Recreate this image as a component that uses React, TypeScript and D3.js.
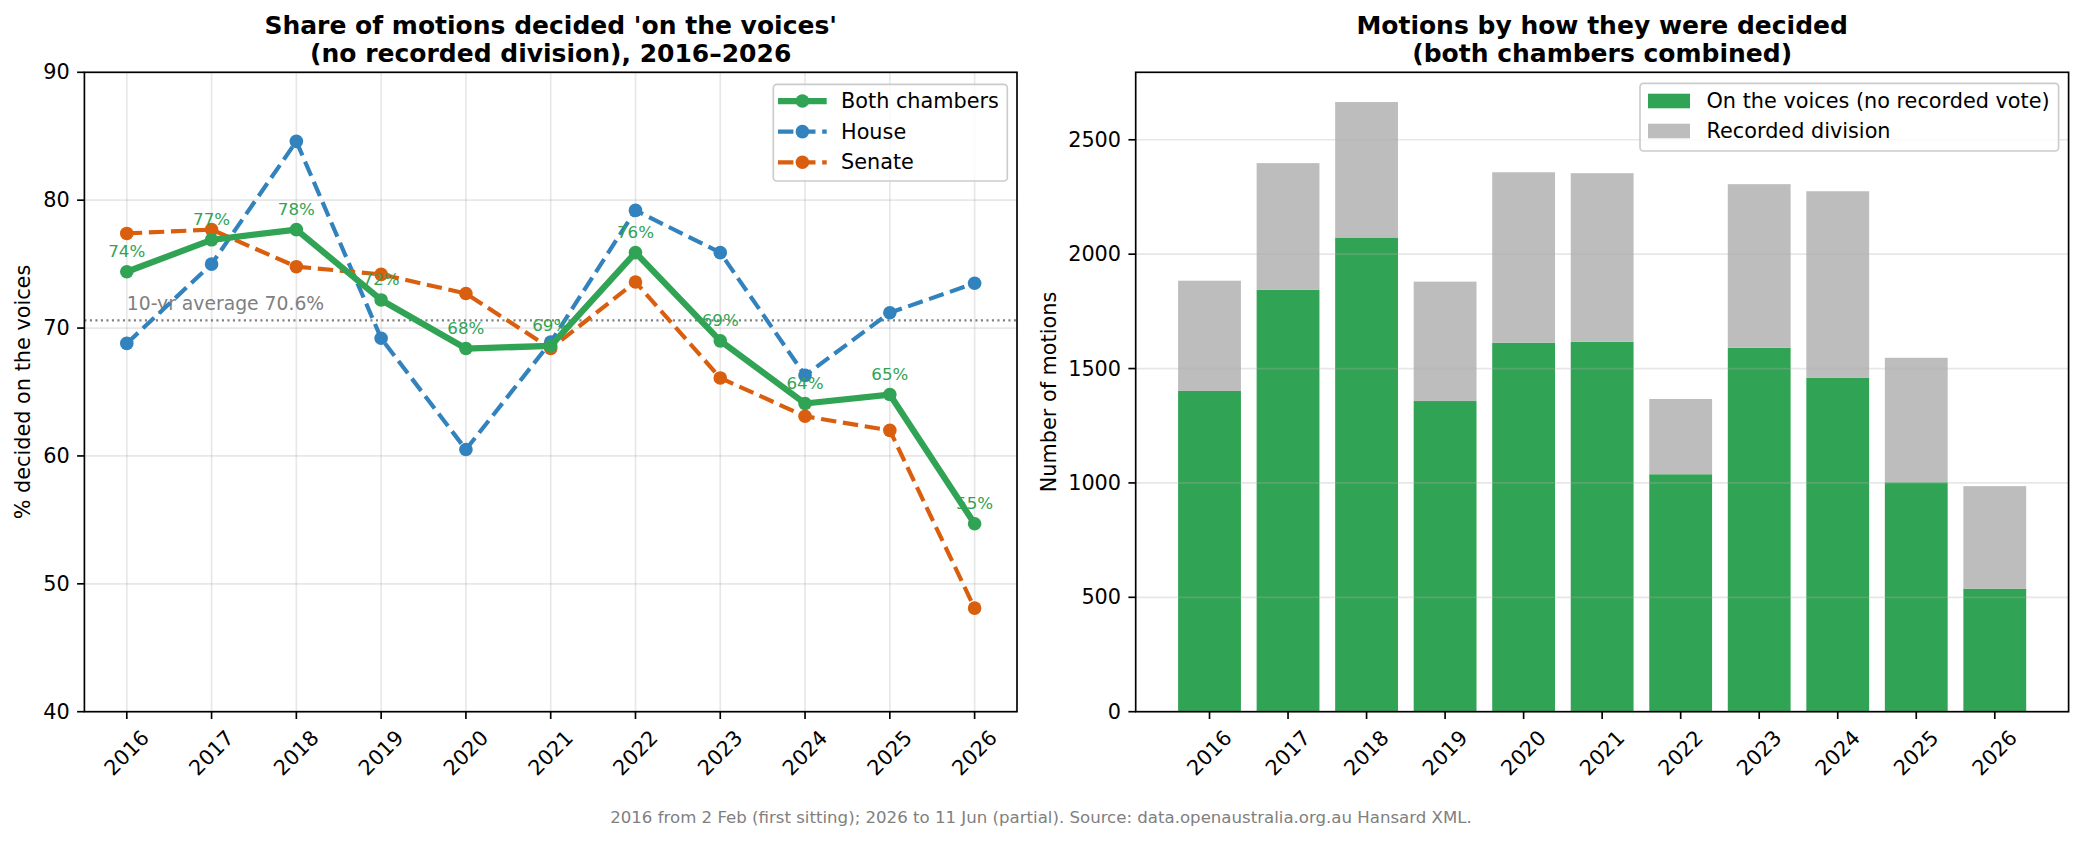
import React, { useEffect } from "react";
import * as d3 from "d3";

const years = [2016, 2017, 2018, 2019, 2020, 2021, 2022, 2023, 2024, 2025, 2026];
const bothPct = [74.4, 76.9, 77.7, 72.2, 68.4, 68.6, 75.9, 69.0, 64.1, 64.8, 54.7];
const housePct = [68.8, 75.0, 84.6, 69.2, 60.5, 68.9, 79.2, 75.9, 66.3, 71.2, 73.5];
const senatePct = [77.4, 77.7, 74.8, 74.2, 72.7, 68.4, 73.6, 66.1, 63.1, 62.0, 48.1];
const voicesCount = [1402, 1845, 2073, 1358, 1613, 1617, 1038, 1591, 1459, 1003, 538];
const recordedCount = [482, 553, 592, 522, 745, 737, 329, 715, 816, 544, 448];
const avgPct = 70.6;
const leftYTicks = [40, 50, 60, 70, 80, 90];
const rightYTicks = [0, 500, 1000, 1500, 2000, 2500];

const GREEN = "#31a354";
const BLUE = "#3182bd";
const ORANGE = "#d95f0e";
const GRAY_BAR = "#bdbdbd";
const GRID = "rgba(176,176,176,0.3)";
const FONT = "'DejaVu Sans', sans-serif";

const TICK = 20.8;
const TITLE = 25;

export default function App() {
  useEffect(() => {
    document.body.style.margin = "0";
  }, []);

  const L = { left: 84.4, right: 1017, top: 72.3, bottom: 711.7 };
  const R = { left: 1135.7, right: 2068.6, top: 72.3, bottom: 711.7 };

  const xL = d3.scaleLinear().domain([2015.5, 2026.5]).range([L.left, L.right]);
  const yL = d3.scaleLinear().domain([40, 90]).range([L.bottom, L.top]);
  const xR = d3.scaleLinear().domain([2015.06, 2026.94]).range([R.left, R.right]);
  const yR = d3.scaleLinear().domain([0, 2795]).range([R.bottom, R.top]);

  const lineGen = (vals: number[]) =>
    d3
      .line<number>()
      .x((_, i) => xL(years[i]))
      .y((d) => yL(d))(vals) || "";

  const series = [
    { name: "House", vals: housePct, color: BLUE, width: 4.17, dash: "15.4 6.7" },
    { name: "Senate", vals: senatePct, color: ORANGE, width: 4.17, dash: "15.4 6.7" },
    { name: "Both chambers", vals: bothPct, color: GREEN, width: 6.25, dash: "" },
  ];
  const legendOrder = [series[2], series[0], series[1]];
  const MR = 6.8;

  const barW = xR(0.8) - xR(0);

  const rotLabel = (x: number, key: string | number, label: string) => (
    <text
      key={key}
      x={x}
      y={753}
      transform={`rotate(-45 ${x} 753)`}
      textAnchor="middle"
      dominantBaseline="central"
      fontSize={TICK}
      fill="#000"
    >
      {label}
    </text>
  );

  return (
    <div style={{ position: "absolute", left: 0, top: 0 }}>
      <svg width={2084} height={841} style={{ display: "block", fontFamily: FONT }}>
        <rect x={0} y={0} width={2084} height={841} fill="#fff" />

        {/* ===== LEFT PANEL ===== */}
        <text x={(L.left + L.right) / 2} y={34.3} textAnchor="middle" fontSize={TITLE} fontWeight="bold">
          Share of motions decided 'on the voices'
        </text>
        <text x={(L.left + L.right) / 2} y={61.5} textAnchor="middle" fontSize={TITLE} fontWeight="bold">
          (no recorded division), 2016–2026
        </text>

        {years.map((yr) => (
          <line key={"gx" + yr} x1={xL(yr)} x2={xL(yr)} y1={L.top} y2={L.bottom} stroke={GRID} strokeWidth={1.67} />
        ))}
        {leftYTicks.map((t) => (
          <line key={"gy" + t} x1={L.left} x2={L.right} y1={yL(t)} y2={yL(t)} stroke={GRID} strokeWidth={1.67} />
        ))}

        <line
          x1={L.left}
          x2={L.right}
          y1={yL(avgPct)}
          y2={yL(avgPct)}
          stroke="#808080"
          strokeWidth={2.08}
          strokeDasharray="2.1 3.4"
        />
        <text x={xL(2016)} y={yL(avgPct + 0.5) - 4.4} fontSize={18.75} fill="#808080">
          10-yr average {avgPct}%
        </text>

        {series.map((s) => (
          <g key={s.name}>
            <path d={lineGen(s.vals)} fill="none" stroke={s.color} strokeWidth={s.width} strokeDasharray={s.dash || undefined} strokeLinejoin="round" />
            {s.vals.map((v, i) => (
              <circle key={i} cx={xL(years[i])} cy={yL(v)} r={MR} fill={s.color} />
            ))}
          </g>
        ))}

        {bothPct.map((v, i) => (
          <text key={"a" + i} x={xL(years[i])} y={yL(v) - 14.5} textAnchor="middle" fontSize={16.7} fill={GREEN}>
            {Math.round(v)}%
          </text>
        ))}

        <rect x={L.left} y={L.top} width={L.right - L.left} height={L.bottom - L.top} fill="none" stroke="#000" strokeWidth={1.67} />
        {leftYTicks.map((t) => (
          <g key={"ly" + t}>
            <line x1={L.left - 7.3} x2={L.left} y1={yL(t)} y2={yL(t)} stroke="#000" strokeWidth={1.67} />
            <text x={L.left - 14.6} y={yL(t)} textAnchor="end" dominantBaseline="central" fontSize={TICK}>
              {t}
            </text>
          </g>
        ))}
        {years.map((yr) => (
          <line key={"lxt" + yr} x1={xL(yr)} x2={xL(yr)} y1={L.bottom} y2={L.bottom + 7.3} stroke="#000" strokeWidth={1.67} />
        ))}
        {years.map((yr) => rotLabel(xL(yr), "lxl" + yr, String(yr)))}
        <text x={30} y={(L.top + L.bottom) / 2} transform={`rotate(-90 30 ${(L.top + L.bottom) / 2})`} textAnchor="middle" fontSize={TICK}>
          % decided on the voices
        </text>

        <rect x={773.3} y={84.3} width={234} height={96.7} rx={3.5} fill="rgba(255,255,255,0.8)" stroke="#cccccc" strokeWidth={1.67} />
        {legendOrder.map((s, i) => {
          const cy = 101 + i * 30.65;
          return (
            <g key={"lg" + s.name}>
              <line x1={778} x2={826.7} y1={cy} y2={cy} stroke={s.color} strokeWidth={s.width} strokeDasharray={s.dash || undefined} />
              <circle cx={802.4} cy={cy} r={MR} fill={s.color} />
              <text x={841} y={cy} dominantBaseline="central" fontSize={TICK}>
                {s.name}
              </text>
            </g>
          );
        })}

        {/* ===== RIGHT PANEL ===== */}
        <text x={(R.left + R.right) / 2} y={34.3} textAnchor="middle" fontSize={TITLE} fontWeight="bold">
          Motions by how they were decided
        </text>
        <text x={(R.left + R.right) / 2} y={61.5} textAnchor="middle" fontSize={TITLE} fontWeight="bold">
          (both chambers combined)
        </text>

        {years.map((yr, i) => (
          <g key={"bar" + yr}>
            <rect x={xR(yr) - barW / 2} y={yR(voicesCount[i])} width={barW} height={yR(0) - yR(voicesCount[i])} fill={GREEN} />
            <rect
              x={xR(yr) - barW / 2}
              y={yR(voicesCount[i] + recordedCount[i])}
              width={barW}
              height={yR(voicesCount[i]) - yR(voicesCount[i] + recordedCount[i])}
              fill={GRAY_BAR}
            />
          </g>
        ))}
        {rightYTicks.map((t) => (
          <line key={"rgy" + t} x1={R.left} x2={R.right} y1={yR(t)} y2={yR(t)} stroke={GRID} strokeWidth={1.67} />
        ))}

        <rect x={R.left} y={R.top} width={R.right - R.left} height={R.bottom - R.top} fill="none" stroke="#000" strokeWidth={1.67} />
        {rightYTicks.map((t) => (
          <g key={"ry" + t}>
            <line x1={R.left - 7.3} x2={R.left} y1={yR(t)} y2={yR(t)} stroke="#000" strokeWidth={1.67} />
            <text x={R.left - 14.6} y={yR(t)} textAnchor="end" dominantBaseline="central" fontSize={TICK}>
              {t}
            </text>
          </g>
        ))}
        {years.map((yr) => (
          <line key={"rxt" + yr} x1={xR(yr)} x2={xR(yr)} y1={R.bottom} y2={R.bottom + 7.3} stroke="#000" strokeWidth={1.67} />
        ))}
        {years.map((yr) => rotLabel(xR(yr), "rxl" + yr, String(yr)))}
        <text x={1056} y={(R.top + R.bottom) / 2} transform={`rotate(-90 1056 ${(R.top + R.bottom) / 2})`} textAnchor="middle" fontSize={TICK}>
          Number of motions
        </text>

        <rect x={1640} y={83.3} width={418.6} height={67.7} rx={3.5} fill="rgba(255,255,255,0.8)" stroke="#cccccc" strokeWidth={1.67} />
        <rect x={1648} y={101 - 7.3} width={42} height={14.6} fill={GREEN} />
        <text x={1706.5} y={101} dominantBaseline="central" fontSize={TICK}>
          On the voices (no recorded vote)
        </text>
        <rect x={1648} y={131 - 7.3} width={42} height={14.6} fill={GRAY_BAR} />
        <text x={1706.5} y={131} dominantBaseline="central" fontSize={TICK}>
          Recorded division
        </text>

        <text x={1041} y={823.3} textAnchor="middle" fontSize={16.6} fill="#808080">
          2016 from 2 Feb (first sitting); 2026 to 11 Jun (partial). Source: data.openaustralia.org.au Hansard XML.
        </text>
      </svg>
    </div>
  );
}
